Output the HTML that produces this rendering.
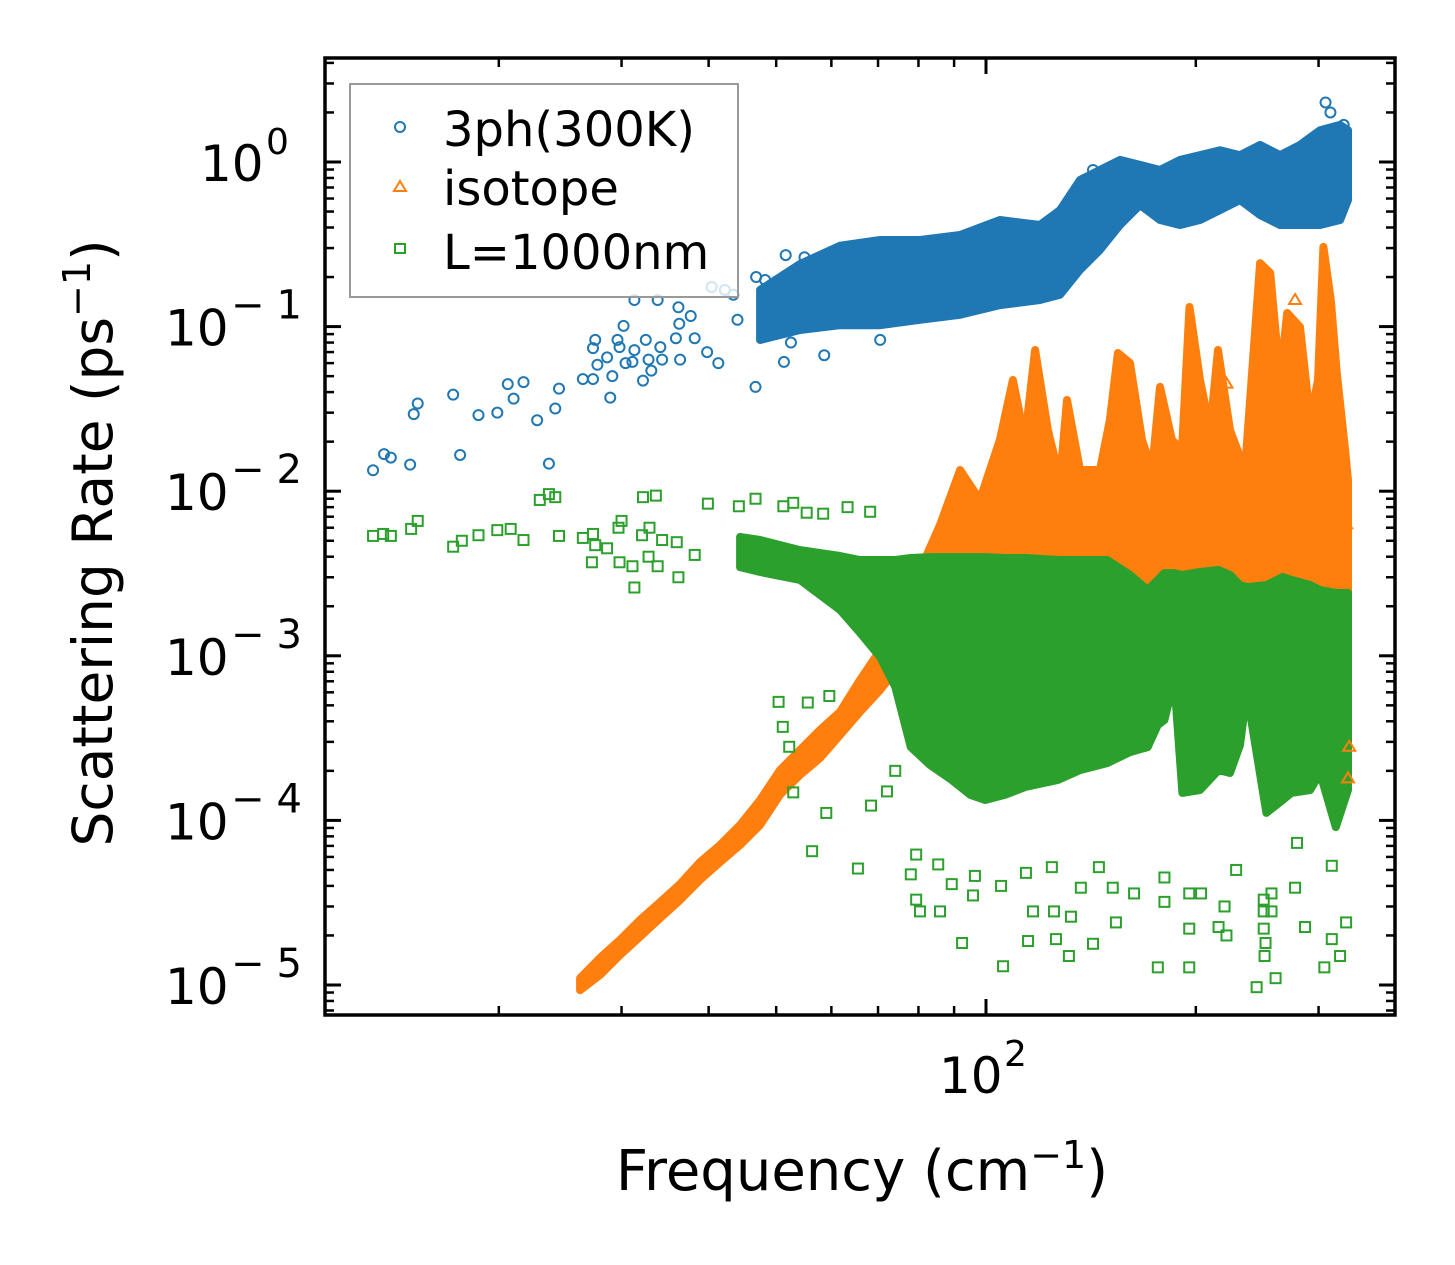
<!DOCTYPE html>
<html><head><meta charset="utf-8"><style>
html,body{margin:0;padding:0;background:#fff;}
svg{display:block;font-family:"DejaVu Sans","Liberation Sans",sans-serif;}
</style></head><body>
<svg id="chart" width="1455" height="1265" viewBox="0 0 1455 1265" xmlns="http://www.w3.org/2000/svg">
<rect x="0" y="0" width="1455" height="1265" fill="#fff"/>
<g id="bands"></g>
<g id="points"></g>
<g id="axes"></g>
<text x="862" y="1190" text-anchor="middle" font-size="56">Frequency (cm<tspan dy="-22" font-size="38">−1</tspan><tspan dy="22">)</tspan></text>
<text transform="translate(112,543) rotate(-90)" text-anchor="middle" font-size="55">Scattering Rate (ps<tspan dy="-22" font-size="38">−1</tspan><tspan dy="22">)</tspan></text>
<g>
<rect x="350" y="84" width="388" height="213" fill="#fff" fill-opacity="0.8" stroke="#999" stroke-width="2"/>
<circle cx="400" cy="127" r="5" fill="none" stroke="#1f77b4" stroke-width="2"/>
<text x="443" y="146" font-size="48">3ph(300K)</text>
<polygon points="400,181 406,191 394,191" fill="none" stroke="#ff7f0e" stroke-width="2"/>
<text x="443" y="205" font-size="48">isotope</text>
<rect x="395" y="244" width="10" height="9" fill="none" stroke="#2ca02c" stroke-width="2"/>
<text x="443" y="269" font-size="48">L=1000nm</text>
</g>
</svg>
<script>
// ---- data ----
const blueBandFreq = [47.42,54.09,61.74,70.47,80.43,91.79,104.7,119.5,127.7,136.4,145.7,155.7,166.3,177.7,189.8,202.8,216.7,231.4,247.3,264.1,282.2,301.5,322.1,330.7];
const blueBandHi = [0.167,0.24,0.31,0.336,0.336,0.36,0.444,0.414,0.51,0.777,0.894,1.03,0.96,0.894,1.03,1.10,1.18,1.10,1.27,1.10,1.27,1.56,1.68,1.56];
const blueBandLo = [0.0829,0.0953,0.102,0.102,0.110,0.118,0.135,0.145,0.156,0.221,0.292,0.414,0.548,0.444,0.414,0.444,0.51,0.588,0.476,0.414,0.414,0.414,0.444,0.588];
const bluePtFreq = [13.2,13.69,14.0,14.92,15.1,15.3,17.2,17.6,18.7,19.9,20.6,21.0,21.7,22.7,23.6,24.1,24.4,26.4,27.3,27.7,27.3,27.5,28.6,28.9,29.1,29.6,29.8,30.2,30.4,31.1,31.3,31.3,32.2,32.5,32.8,33.1,33.8,34.1,34.3,35.9,36.2,36.3,36.4,37.7,38.2,39.8,40.4,41.3,42.2,43.4,44.0,46.7,46.8,48.2,51.3,51.6,52.5,54.9,58.6,60.7,142.4,70.5,307,312,326];
const bluePtRate = [0.0134,0.0168,0.0160,0.0145,0.0294,0.0341,0.0386,0.0166,0.0290,0.0300,0.0447,0.0365,0.0460,0.027,0.0147,0.0318,0.0420,0.048,0.048,0.0586,0.074,0.083,0.065,0.037,0.050,0.083,0.075,0.101,0.060,0.061,0.145,0.072,0.047,0.083,0.063,0.054,0.145,0.075,0.063,0.085,0.131,0.104,0.063,0.116,0.085,0.070,0.174,0.060,0.167,0.156,0.110,0.043,0.200,0.192,0.061,0.272,0.080,0.264,0.067,0.280,0.894,0.083,2.3,2.0,1.68];

const orangeBandFreq = [26.16,27.94,29.85,31.86,34.07,36.39,38.88,41.54,44.38,47.42,50.63,54.09,57.79,61.74,65.96,70.47,75.28,80.43,85.91,91.79,98.0,104.7,109.3,113.7,117.6,122.7,127.7,130.7,136.4,145.7,150.6,154.6,160.9,167.4,173.1,177.7,184.8,191.1,195.9,202.8,209.7,215.2,223.9,235.3,247.3,255.7,264.1,270.5,282.2,291.8,299.5,304.8,312.4,318.6,327.5,330.7];
const orangeBandHi = [1.10e-5,1.46e-5,1.88e-5,2.48e-5,3.19e-5,4.10e-5,5.58e-5,7.09e-5,9.38e-5,1.33e-4,2.02e-4,2.68e-4,3.54e-4,4.56e-4,7.13e-4,1.08e-3,1.90e-3,3.32e-3,6.23e-3,0.01345,8.85e-3,0.0205,0.0474,0.0205,0.0721,0.0235,0.0117,0.0358,0.01345,0.01345,0.0271,0.0691,0.0601,0.0205,0.01345,0.0430,0.0205,0.0178,0.1315,0.0474,0.0235,0.0721,0.0235,0.01345,0.243,0.212,0.0474,0.121,0.0995,0.0271,0.0474,0.305,0.145,0.0522,0.0178,0.0117];
const orangeBandLo = [9.3e-6,1.15e-5,1.52e-5,1.96e-5,2.55e-5,3.28e-5,4.35e-5,5.58e-5,7.09e-5,9.38e-5,1.43e-4,1.89e-4,2.39e-4,3.30e-4,4.56e-4,6.20e-4,8.80e-4,1.25e-3,1.65e-3,2.18e-3,2.18e-3,2.18e-3,2.18e-3,2.18e-3,2.18e-3,2.18e-3,2.18e-3,2.18e-3,2.18e-3,2.18e-3,2.18e-3,2.18e-3,2.18e-3,2.18e-3,2.18e-3,2.18e-3,2.18e-3,2.18e-3,2.18e-3,2.18e-3,2.18e-3,2.18e-3,2.18e-3,2.18e-3,2.18e-3,2.18e-3,2.18e-3,2.18e-3,2.18e-3,2.18e-3,2.18e-3,2.18e-3,2.18e-3,2.18e-3,1.65e-3,1.65e-3];
const orangePtFreq = [243.6,328.6,305.8,191.1,330.7,332,277.6,221.3];
const orangePtRate = [0.0066,0.0063,0.0055,0.0062,1.8e-4,2.8e-4,0.145,0.045];

const greenBandFreq = [44.38,47.42,54.09,61.74,65.96,70.47,74.1,78.0,83.1,89.3,94.9,99.7,106.5,114.1,126.8,136.4,149.2,160.9,170.6,176.4,180.3,186.2,191.3,202.8,215.6,223.9,231.4,236.6,239.3,252.5,266.5,274.3,291.8,301.5,317.6,330.7];
const greenBandHi = [5.27e-3,5.05e-3,4.39e-3,4.04e-3,3.82e-3,3.82e-3,3.82e-3,3.93e-3,3.98e-3,3.98e-3,3.98e-3,3.98e-3,3.93e-3,3.93e-3,3.82e-3,3.82e-3,3.82e-3,3.10e-3,2.51e-3,2.89e-3,3.18e-3,3.18e-3,3.10e-3,3.23e-3,3.32e-3,3.10e-3,2.69e-3,2.62e-3,2.62e-3,2.69e-3,3.01e-3,2.89e-3,2.69e-3,2.51e-3,2.41e-3,2.41e-3];
const greenBandLo = [3.46e-3,3.23e-3,2.89e-3,1.90e-3,1.38e-3,9.84e-4,6.46e-4,2.79e-4,2.17e-4,1.76e-4,1.43e-4,1.33e-4,1.43e-4,1.60e-4,1.76e-4,2.02e-4,2.23e-4,2.60e-4,2.79e-4,3.80e-4,4.07e-4,7.13e-4,1.47e-4,1.53e-4,2.02e-4,1.94e-4,2.87e-4,5.94e-4,4.50e-4,1.11e-4,1.33e-4,1.47e-4,1.53e-4,1.94e-4,9.1e-5,1.53e-4];
const greenPtFreq = [13.2,13.65,14.0,14.97,15.3,17.2,17.7,18.7,19.9,20.8,21.7,22.9,23.6,24.1,24.4,26.4,27.3,27.5,27.2,28.6,29.7,30.0,29.8,31.1,31.3,32.2,33.6,32.1,32.9,32.8,34.3,33.8,36.0,36.2,38.2,39.9,44.2,46.7,51.2,52.9,55.3,58.4,63.3,68.2,
 50.4,55.5,59.6,51.1,52.2,52.9,59.0,56.3,65.5,68.4,72.1,74.1,79.4,78.0,79.4,80.4,85.9,85.4,89.3,92.4,95.8,96.4,105.8,105.1,114.1,116.8,114.9,125.2,126.0,131.5,132.4,124.3,136.8,142.4,145.2,153.6,152.0,163.1,176.4,180.3,180.3,195.7,195.7,195.7,215.6,221.3,203.5,219.9,228.5,244.5,251.0,260.3,256.8,256.8,286.9,313.4,322.1,305.8,328.6,313.4,277.6,279.4,250.3,250.3,250.3,251.8];
const greenPtRate = [0.00535,0.0055,0.00535,0.0059,0.0066,0.0046,0.0050,0.0054,0.0058,0.0059,0.00505,0.00885,0.0096,0.0092,0.00535,0.0052,0.0055,0.0047,0.0037,0.0045,0.0060,0.0066,0.0037,0.0035,0.0026,0.0092,0.0094,0.0054,0.0060,0.0040,0.00505,0.0035,0.0049,0.0030,0.0041,0.0084,0.0081,0.0090,0.0081,0.0085,0.0074,0.0073,0.0080,0.0075,
 5.25e-4,5.2e-4,5.7e-4,3.7e-4,2.8e-4,1.48e-4,1.11e-4,6.5e-5,5.1e-5,1.23e-4,1.5e-4,2.0e-4,6.2e-5,4.7e-5,3.3e-5,2.8e-5,2.8e-5,5.4e-5,4.1e-5,1.8e-5,3.5e-5,4.6e-5,1.3e-5,4.0e-5,4.8e-5,2.8e-5,1.85e-5,2.8e-5,1.9e-5,1.5e-5,2.6e-5,5.2e-5,3.9e-5,1.78e-5,5.2e-5,2.4e-5,3.9e-5,3.6e-5,1.28e-5,3.2e-5,4.5e-5,3.6e-5,2.2e-5,1.28e-5,2.25e-5,2.0e-5,3.6e-5,3.0e-5,5.0e-5,9.7e-6,1.5e-5,1.1e-5,2.8e-5,3.6e-5,2.25e-5,1.9e-5,1.5e-5,1.28e-5,2.4e-5,5.3e-5,3.9e-5,7.3e-5,3.3e-5,2.8e-5,2.2e-5,1.8e-5];

const xMajorTicks = [100];
const xMinorTicks = [20,30,40,50,60,70,80,90,200,300];
const yMajorTicks = [1e-5,1e-4,1e-3,1e-2,1e-1,1];
const yTickExp = ['−5','−4','−3','−2','−1','0'];

// ---- scales ----
const X0 = 325, X1 = 1395, Y0 = 58, Y1 = 1015;
function X(f){ return 986 + 697*(Math.log10(f) - 2); }
function Y(r){ return 162 - 164.6*Math.log10(r); }
const NS = 'http://www.w3.org/2000/svg';
function mk(tag, parent){ const e = document.createElementNS(NS, tag); parent.appendChild(e); return e; }

const bands = document.getElementById('bands');
const pts = document.getElementById('points');
const axes = document.getElementById('axes');

function band(freq, hi, lo, color, name){
  const top = freq.map((f,i)=>X(f).toFixed(1)+','+Y(hi[i]).toFixed(1));
  const bot = freq.map((f,i)=>X(f).toFixed(1)+','+Y(lo[i]).toFixed(1)).reverse();
  const p = mk('polygon', bands);
  p.setAttribute('points', top.concat(bot).join(' '));
  p.setAttribute('fill', color);
  p.setAttribute('stroke', color);
  p.setAttribute('stroke-width', '8');
  p.setAttribute('stroke-linejoin', 'round');
  
  
}
function circles(freq, rate){
  freq.forEach((f,i)=>{
    const c = mk('circle', pts);
    c.setAttribute('cx', X(f)); c.setAttribute('cy', Y(rate[i])); c.setAttribute('r', 5);
    c.setAttribute('fill','none'); c.setAttribute('stroke','#1f77b4'); c.setAttribute('stroke-width','2');
    
    
  });
}
function triangles(freq, rate){
  freq.forEach((f,i)=>{
    const x = X(f), y = Y(rate[i]);
    const t = mk('polygon', pts);
    t.setAttribute('points', `${x},${y-6} ${x+6},${y+4} ${x-6},${y+4}`);
    t.setAttribute('fill','none'); t.setAttribute('stroke','#ff7f0e'); t.setAttribute('stroke-width','2');
    
    
  });
}
function squares(freq, rate){
  freq.forEach((f,i)=>{
    const s = mk('rect', pts);
    s.setAttribute('x', X(f)-5); s.setAttribute('y', Y(rate[i])-5); s.setAttribute('width',10); s.setAttribute('height',10);
    s.setAttribute('fill','none'); s.setAttribute('stroke','#2ca02c'); s.setAttribute('stroke-width','2');
    
    
  });
}
band(blueBandFreq, blueBandHi, blueBandLo, '#1f77b4', 'band-3ph');
circles(bluePtFreq, bluePtRate);
band(orangeBandFreq, orangeBandHi, orangeBandLo, '#ff7f0e', 'band-isotope');
triangles(orangePtFreq, orangePtRate);
band(greenBandFreq, greenBandHi, greenBandLo, '#2ca02c', 'band-boundary');
squares(greenPtFreq, greenPtRate);

// ---- axes ----
function line(x1,y1,x2,y2,w,name){
  const l = mk('line', axes);
  l.setAttribute('x1',x1); l.setAttribute('y1',y1); l.setAttribute('x2',x2); l.setAttribute('y2',y2);
  l.setAttribute('stroke','#000'); l.setAttribute('stroke-width',w);
  
  
}
xMinorTicks.forEach(f=>{ const x=X(f); line(x,Y1,x,Y1-9,2.5,'x-minor-tick'); line(x,Y0,x,Y0+9,2.5,'x-minor-tick-top'); });
xMajorTicks.forEach(f=>{ const x=X(f); line(x,Y1,x,Y1-16,3,'x-major-tick'); line(x,Y0,x,Y0+16,3,'x-major-tick-top');
  const t = mk('text', axes); t.setAttribute('x', x-47); t.setAttribute('y', 1093); t.setAttribute('font-size','50');
  t.textContent = '10';
  
  
  const s = mk('text', axes); s.setAttribute('x', x+18); s.setAttribute('y', 1066); s.setAttribute('font-size','36');
  s.textContent = '2';
  
  
});
yMajorTicks.forEach((r,i)=>{
  const y=Y(r);
  line(X0,y,X0+16,y,3,'y-major-tick'); line(X1,y,X1-16,y,3,'y-major-tick-right');
  const neg = yTickExp[i].length > 1;
  const bx = neg ? 165 : 200;
  const t = mk('text', axes); t.setAttribute('x', bx); t.setAttribute('y', y+19); t.setAttribute('font-size','50');
  t.textContent = '10';
  
  
  const s = mk('text', axes); s.setAttribute('x', bx+66); s.setAttribute('y', y-8); s.setAttribute('font-size', neg ? '40' : '36');
  if(neg) s.setAttribute('letter-spacing','12');
  s.textContent = yTickExp[i];
  
  
  for(let k=2;k<=9;k++){ const v=r*k; const yy=Y(v); if(yy<Y0+1) continue;
    line(X0,yy,X0+9,yy,2.5,'y-minor-tick'); line(X1,yy,X1-9,yy,2.5,'y-minor-tick-right'); }
});
[2,3,4,5,6,7,8,9].forEach(k=>{ const yy=Y(1e-6*k); if(yy<Y1-1){ line(X0,yy,X0+9,yy,2.5,'y-minor-tick'); line(X1,yy,X1-9,yy,2.5,'y-minor-tick-right'); } });
const fr = mk('rect', axes);
fr.setAttribute('x',X0); fr.setAttribute('y',Y0); fr.setAttribute('width',X1-X0); fr.setAttribute('height',Y1-Y0);
fr.setAttribute('fill','none'); fr.setAttribute('stroke','#000'); fr.setAttribute('stroke-width','3.5');


</script>
</body></html>
